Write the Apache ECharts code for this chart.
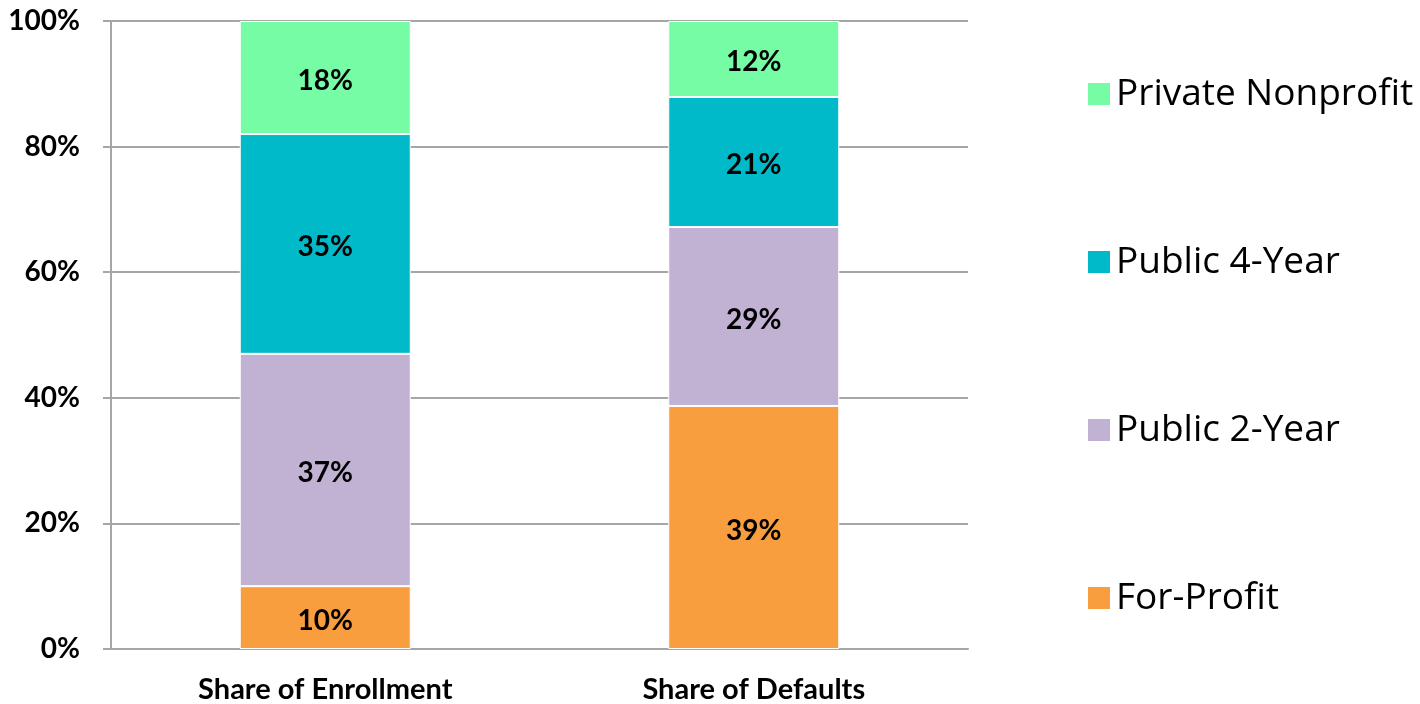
<!DOCTYPE html>
<html>
<head>
<meta charset="utf-8">
<script src="https://cdn.jsdelivr.net/npm/echarts@6/dist/echarts.min.js"></script>
<style>
  html, body { margin: 0; padding: 0; background: #ffffff; }
  #chart { width: 1420px; height: 704px; }
</style>
</head>
<body>
<div id="chart"></div>
<script>
// categories along x
var categories = ['Share of Enrollment', 'Share of Defaults'];
// shares, bottom to top of each bar
var forProfit = [10.0, 38.7];
var public2Year = [37.0, 28.5];
var public4Year = [35.0, 20.7];
var privateNonprofit = [18.0, 12.1];
var seriesNames = ['For-Profit', 'Public 2-Year', 'Public 4-Year', 'Private Nonprofit'];
var colors = ['#f99e3e', '#c1b2d4', '#00bac9', '#77fca6'];

var chart = echarts.init(document.getElementById('chart'));

var boldFont = 'Lato, "Open Sans", sans-serif';

function makeSeries(name, data, color) {
    return {
        name: name,
        type: 'bar',
        stack: 'total',
        barWidth: 171,
        data: data,
        itemStyle: { color: color, borderColor: '#ffffff', borderWidth: 1 },
        label: {
            show: true,
            position: 'inside',
            offset: [0, 3],
            color: '#000000',
            fontFamily: boldFont,
            fontWeight: 'bold',
            fontSize: 28,
            formatter: function (p) { return Math.round(p.value) + '%'; }
        }
    };
}

chart.setOption({
    animation: false,
    grid: { left: 111, right: 452, top: 21, bottom: 55 },
    legend: {
        orient: 'vertical',
        left: 1081,
        top: 69,
        itemWidth: 24,
        itemHeight: 24,
        itemGap: 128,
        icon: 'rect',
        data: seriesNames.slice().reverse(),
        textStyle: {
            fontFamily: '"Open Sans", sans-serif',
            fontSize: 37,
            color: '#000000',
            lineHeight: 40
        }
    },
    xAxis: {
        type: 'category',
        data: categories,
        axisLine: { lineStyle: { color: '#a6a6a6', width: 2 } },
        axisTick: { length: 8, lineStyle: { color: '#a6a6a6', width: 2 } },
        axisLabel: {
            margin: 26,
            color: '#000000',
            fontFamily: boldFont,
            fontWeight: 'bold',
            fontSize: 29
        }
    },
    yAxis: {
        type: 'value',
        min: 0,
        max: 100,
        interval: 20,
        axisLine: { show: true, lineStyle: { color: '#a6a6a6', width: 2 } },
        axisTick: { show: true, length: 8, lineStyle: { color: '#a6a6a6', width: 2 } },
        splitLine: { lineStyle: { color: '#a6a6a6', width: 2 } },
        axisLabel: {
            margin: 31,
            color: '#000000',
            fontFamily: boldFont,
            fontWeight: 'bold',
            fontSize: 28,
            padding: [4, 0, 0, 0],
            formatter: '{value}%'
        }
    },
    series: [
        makeSeries(seriesNames[0], forProfit, colors[0]),
        makeSeries(seriesNames[1], public2Year, colors[1]),
        makeSeries(seriesNames[2], public4Year, colors[2]),
        makeSeries(seriesNames[3], privateNonprofit, colors[3])
    ]
});
</script>
</body>
</html>
